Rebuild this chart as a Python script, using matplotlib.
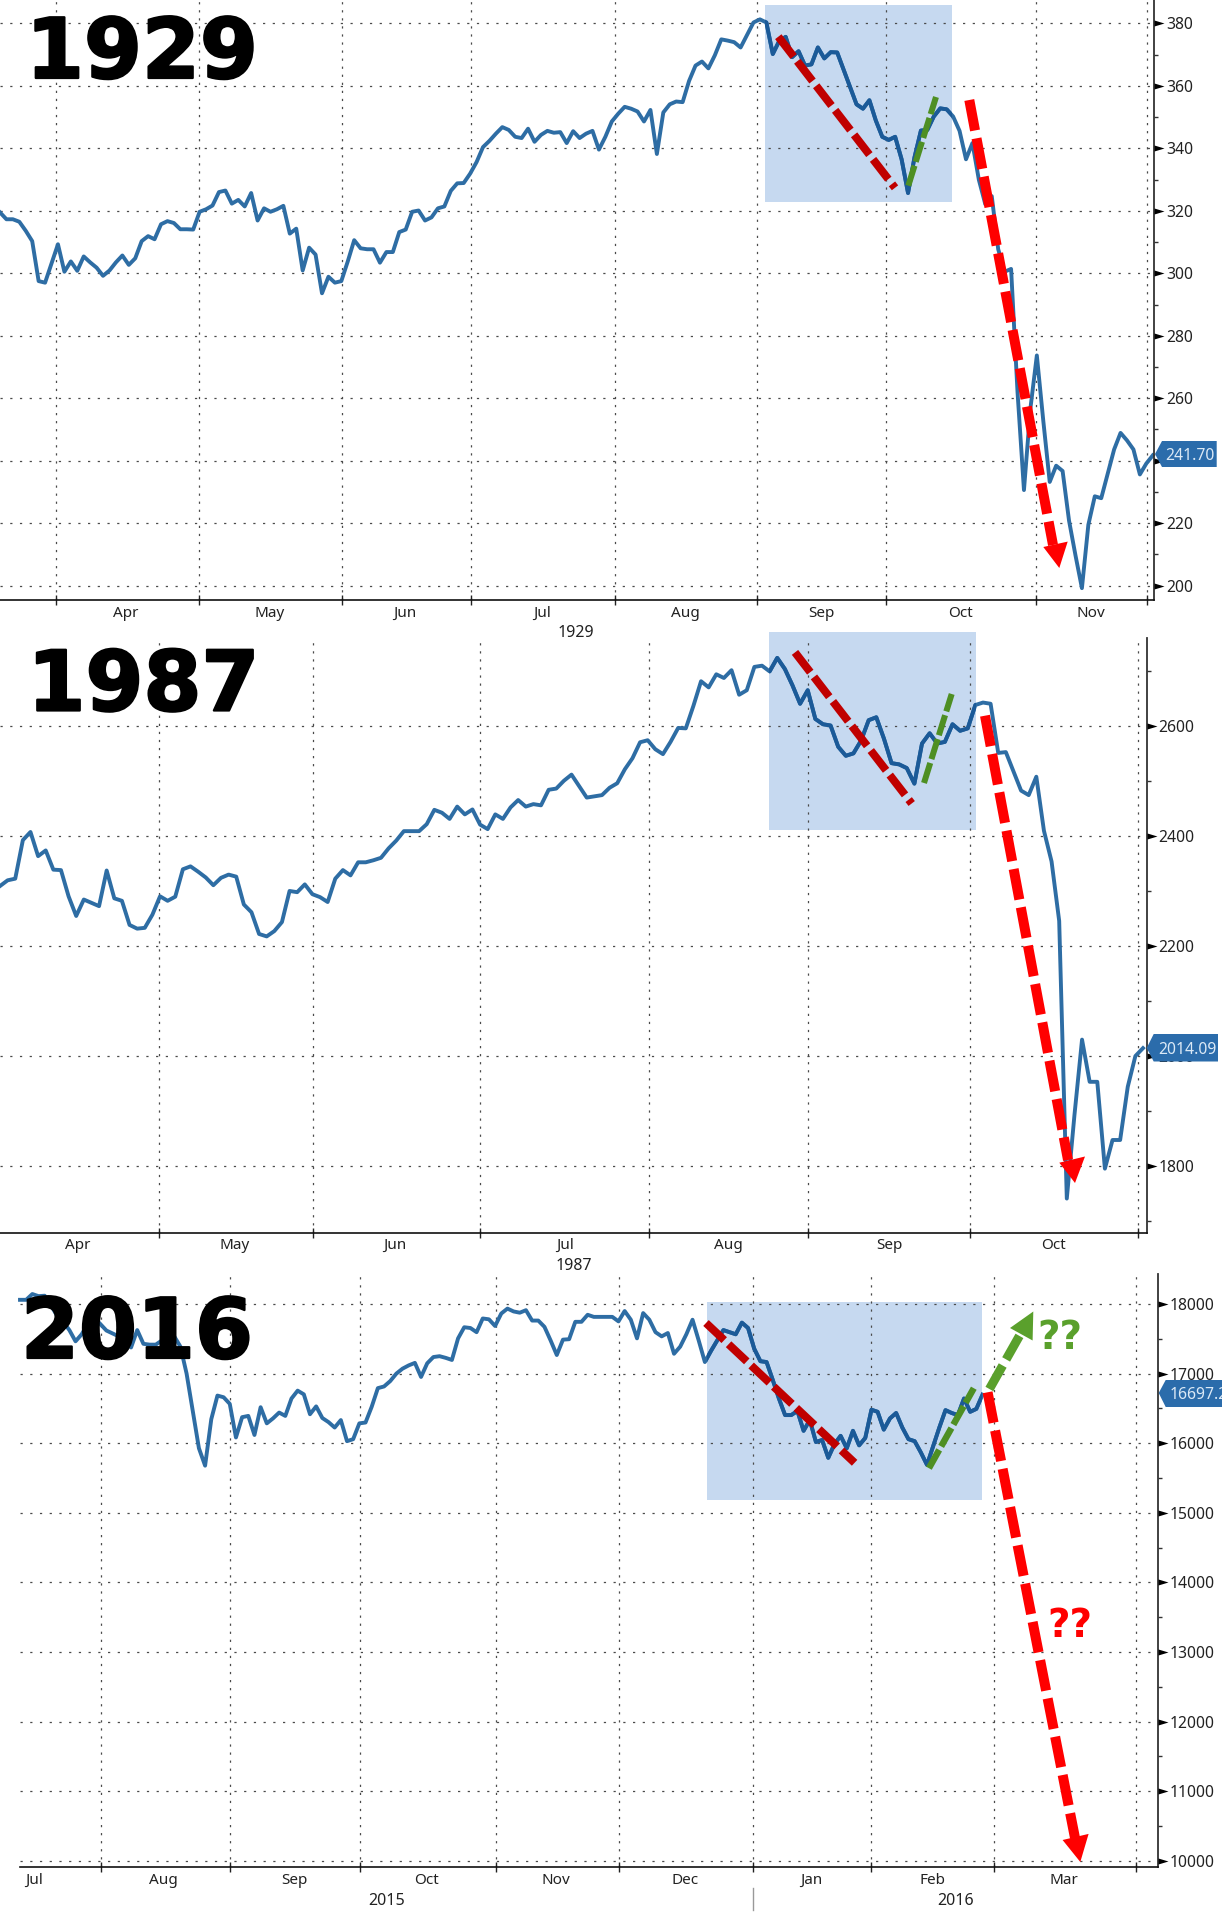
import numpy as np
import matplotlib
matplotlib.use("Agg")
import matplotlib.pyplot as plt
import matplotlib.patheffects as pe
from matplotlib.lines import Line2D
from matplotlib.patches import Polygon, Rectangle
from matplotlib.path import Path
from matplotlib.transforms import Affine2D

# ---------------- data ----------------
close_1929 = [
    319.5, 317.3, 317.3, 316.5, 313.6, 310.3, 297.5, 297.0, 303.1, 309.3, 300.5, 303.8, 300.8, 305.4, 303.5,
    301.8, 299.2, 300.9, 303.5, 305.7, 302.7, 304.8, 310.3, 311.9, 310.9, 315.7, 316.7, 316.1, 314.1, 314.1,
    314.0, 319.7, 320.5, 321.7, 326.0, 326.5, 322.3, 323.5, 321.4, 325.7, 316.9, 320.8, 319.7, 320.5, 321.6,
    312.7, 314.3, 300.9, 308.2, 306.0, 293.6, 298.9, 297.0, 297.5, 303.8, 310.6, 308.0, 307.7, 307.7, 303.4,
    306.8, 306.8, 313.2, 314.0, 319.7, 320.1, 316.9, 317.9, 320.8, 321.4, 326.4, 328.8, 328.9, 331.9, 335.6,
    340.4, 342.4, 344.7, 346.8, 345.9, 343.7, 343.3, 346.3, 342.1, 344.3, 345.6, 345.0, 345.2, 341.7, 345.5,
    343.3, 344.7, 345.6, 339.6, 343.7, 348.6, 351.1, 353.3, 352.7, 351.8, 348.6, 352.3, 338.2, 351.5, 354.1,
    355.0, 354.8, 361.6, 366.5, 367.8, 365.6, 369.8, 374.9, 374.5, 374.0, 372.3, 376.3, 380.3, 381.3, 380.3,
    370.2, 374.4, 375.7, 369.2, 371.1, 366.5, 366.9, 372.3, 368.8, 370.8, 370.7, 365.2, 359.6, 354.1, 352.7,
    355.4, 348.9, 343.7, 342.7, 343.7, 336.5, 325.7, 337.1, 345.7, 345.9, 350.2, 352.8, 352.5, 350.2, 345.6,
    336.5, 341.7, 329.9, 322.1, 324.7, 307.7, 300.5, 301.4, 262.0, 230.6, 256.7, 273.7, 252.8, 233.2, 238.4,
    236.7, 220.8, 209.7, 199.2, 219.5, 228.6, 228.0, 235.8, 243.6, 248.9, 246.5, 243.6, 235.6, 239.1, 241.70,
]
close_1987 = [
    2309.2, 2319.6, 2322.6, 2392.7, 2407.6, 2363.6, 2374.0, 2339.0, 2338.2, 2290.5, 2254.7, 2284.6, 2278.6,
    2272.6, 2337.5, 2286.8, 2282.3, 2238.4, 2231.6, 2233.1, 2257.0, 2290.5, 2282.3, 2289.8, 2339.7, 2345.0,
    2335.3, 2324.8, 2310.7, 2324.1, 2330.0, 2326.3, 2275.6, 2261.5, 2221.9, 2217.5, 2227.2, 2243.6, 2300.2,
    2298.0, 2312.2, 2294.3, 2289.0, 2280.1, 2322.6, 2338.2, 2328.6, 2352.4, 2352.4, 2356.1, 2360.6, 2377.8,
    2391.9, 2409.1, 2409.1, 2409.1, 2421.8, 2447.9, 2442.6, 2431.4, 2453.8, 2439.6, 2448.6, 2421.0, 2412.8,
    2439.6, 2431.4, 2452.3, 2465.7, 2453.8, 2458.3, 2456.1, 2484.4, 2486.6, 2500.8, 2512.0, 2491.1, 2470.2,
    2472.5, 2474.7, 2488.1, 2496.3, 2521.7, 2541.8, 2570.9, 2574.6, 2558.2, 2549.3, 2571.6, 2597.0, 2596.2,
    2637.2, 2682.0, 2670.8, 2694.6, 2687.9, 2702.1, 2657.4, 2665.6, 2708.1, 2710.3, 2699.9, 2724.5, 2704.3,
    2674.5, 2641.0, 2665.6, 2613.4, 2603.7, 2601.4, 2562.7, 2546.3, 2550.7, 2573.9, 2611.1, 2616.4, 2577.6,
    2532.9, 2530.6, 2523.9, 2495.6, 2568.6, 2587.3, 2568.6, 2571.6, 2603.7, 2591.8, 2596.2, 2638.7, 2643.2,
    2641.0, 2551.5, 2553.0, 2517.9, 2482.9, 2474.7, 2508.2, 2409.8, 2353.9, 2245.8, 1740.3, 1891.6, 2029.6,
    1952.8, 1952.8, 1794.7, 1846.9, 1846.9, 1943.8, 1999.7, 2014.09,
]
close_2016 = [
    18060, 18060, 18143, 18113, 18119, 17982, 17833, 17744, 17625, 17464, 17565, 17714, 17803, 17714, 17619,
    17577, 17535, 17476, 17375, 17625, 17428, 17416, 17416, 17476, 17595, 17535, 17387, 17000, 16463, 15927,
    15677, 16344, 16684, 16660, 16565, 16082, 16374, 16392, 16118, 16517, 16285, 16356, 16440, 16392, 16642,
    16755, 16702, 16416, 16529, 16362, 16303, 16225, 16332, 16029, 16058, 16285, 16297, 16523, 16791, 16815,
    16892, 17000, 17071, 17118, 17154, 16952, 17148, 17238, 17250, 17226, 17196, 17506, 17666, 17655, 17595,
    17792, 17780, 17684, 17863, 17934, 17893, 17875, 17911, 17762, 17762, 17672, 17476, 17267, 17488, 17494,
    17744, 17744, 17845, 17815, 17815, 17815, 17815, 17750, 17899, 17774, 17506, 17869, 17774, 17595, 17535,
    17583, 17285, 17387, 17565, 17774, 17476, 17166, 17327, 17476, 17625, 17595, 17565, 17732, 17655, 17357,
    17178, 17166, 16910, 16642, 16404, 16404, 16463, 16178, 16332, 16017, 16046, 15790, 15987, 16106, 15927,
    16178, 15969, 16076, 16481, 16451, 16195, 16356, 16434, 16225, 16058, 16029, 15868, 15689, 15957, 16225,
    16475, 16434, 16404, 16642, 16451, 16493, 16697.2,
]
# month boundaries and month-label positions, in trading sessions from the first point
months_1929 = ["Apr", "May", "Jun", "Jul", "Aug", "Sep", "Oct", "Nov"]
label_at_1929 = [19.5, 41.9, 62.9, 84.1, 106.4, 127.6, 149.2, 169.4]
bounds_1929 = [8.7, 30.9, 53.1, 73.2, 95.5, 117.5, 137.6, 160.9, 178.1]
months_1987 = ["Apr", "May", "Jun", "Jul", "Aug", "Sep", "Oct"]
label_at_1987 = [10.2, 30.8, 51.8, 74.1, 95.6, 116.7, 138.2]
bounds_1987 = [20.85, 41.1, 63.0, 85.2, 106.1, 127.3, 149.4]
months_2016 = ["Jul", "Aug", "Sep", "Oct", "Nov", "Dec", "Jan", "Feb", "Mar"]
label_at_2016 = [2.2, 23.3, 44.4, 65.9, 86.8, 107.8, 128.3, 147.9, 169.2]
bounds_2016 = [13.1, 34.1, 55.1, 77.1, 97.1, 118.8, 137.9, 157.9, 180.8]

W, H, DPI = 1222, 1920, 100
BLUE, DARKBLUE = "#2e6da4", "#1b5a98"
RED, DARKRED, GREEN, DARKGREEN = "#ff0000", "#c00000", "#5aa02c", "#4e8f23"
FONT = "Noto Sans"

plt.rcParams["lines.scale_dashes"] = False
plt.rcParams["font.family"] = [FONT, "DejaVu Sans"]

fig = plt.figure(figsize=(W / DPI, H / DPI), dpi=DPI, facecolor="white")
# image-pixel coordinates for the hand-drawn overlay (y runs downward)
PX = Affine2D().scale(1, -1).translate(0, H)

# wedge-shaped major tick
WEDGE = Path([(0, -0.3), (1, 0), (0, 0.3), (0, -0.3)], closed=True)


def panel(box, xlim, ylim, values, major, minor, bounds, months, label_at, years, shade):
    l, t, r, b = box
    ax = fig.add_axes([l / W, 1 - b / H, (r - l) / W, (b - t) / H], facecolor="none")
    ax.set_xlim(*xlim)
    ax.set_ylim(*ylim)
    for s in ("top", "left"):
        ax.spines[s].set_visible(False)
    ax.spines["bottom"].set_linewidth(1.2)
    ax.spines["bottom"].set_color("#111111")
    ax.spines["right"].set_linewidth(1.3)
    ax.spines["right"].set_color("#333333")

    ax.yaxis.tick_right()
    ax.set_yticks(major)
    ax.set_yticks(minor, minor=True)
    ax.tick_params(axis="y", which="major", length=0, pad=8.6, labelsize=11.3, labelcolor="#222222")
    ax.tick_params(axis="y", which="minor", length=3.2, width=1, color="#333333")
    ax.set_xticks(bounds)
    ax.set_xticklabels([])
    ax.set_xticks(label_at, months, minor=True)
    ax.tick_params(axis="x", which="major", direction="inout", length=7, width=1, color="#222222")
    ax.tick_params(axis="x", which="minor", length=0, pad=4, labelsize=11, labelcolor="#222222")

    ax.grid(True, which="major", axis="y", color="#4a4a4a", lw=0.9, ls=(0, (1.6, 5.4)))
    ax.grid(True, which="major", axis="x", color="#4a4a4a", lw=0.9, ls=(0, (1.6, 4.2)))
    ax.set_axisbelow("line")

    ax.plot(np.ones(len(major)), major, transform=ax.get_yaxis_transform(), marker=WEDGE, ms=14.4,
            color="black", mew=0, ls="none", clip_on=False, zorder=4)

    rect = Rectangle((shade[0], shade[1]), shade[2] - shade[0], shade[3] - shade[1], transform=PX,
                     facecolor="#c6d9f0", edgecolor="none", zorder=1, clip_on=False)
    ax.add_patch(rect)

    x = np.arange(len(values))
    ax.plot(x, values, color=BLUE, lw=2.8, solid_joinstyle="round", zorder=2, clip_on=False)
    dark, = ax.plot(x, values, color=DARKBLUE, lw=2.8, solid_joinstyle="round", zorder=2.1)
    dark.set_clip_path(rect)

    for label, at in years:
        ax.annotate(label, xy=(at, 0), xycoords=("data", "axes fraction"), xytext=(0, -24), textcoords="offset points",
                    ha="center", va="center", fontsize=11.5, color="#222222")
    return ax


panel((0, 0, 1154.3, 600), (0, 1154.3 / 6.44), (195.4, 387.5), close_1929,
      list(range(200, 381, 20)), list(range(210, 371, 20)), bounds_1929, months_1929, label_at_1929,
      [("1929", 89.4)], (765, 4.9, 951.7, 202.4))
panel((0, 638, 1146.7, 1232.5), (0, 1146.7 / 7.62), (1678.5, 2760.7), close_1987,
      [1800, 2000, 2200, 2400, 2600], [1700, 1900, 2100, 2300, 2500, 2700], bounds_1987, months_1987, label_at_1987,
      [("1987", 75.3)], (769, 632, 975.7, 829.6))
panel((20, 1274, 1158, 1867.4), (0, 1138 / 6.17), (9905, 18431), close_2016,
      list(range(10000, 18001, 1000)), list(range(10500, 17501, 1000)), bounds_2016, months_2016, label_at_2016,
      [("2015", 59.5), ("2016", 151.6)], (707, 1302, 982, 1499.7))

# separator between the two year labels of the bottom panel
fig.add_artist(Line2D([753, 753], [1888, 1910], transform=PX, color="#999999", lw=1))


def dashed(p0, p1, color, width, dash, z=6):
    fig.add_artist(Line2D([p0[0], p1[0]], [p0[1], p1[1]], transform=PX, color=color, lw=width * 0.72,
                          ls=(0, (dash[0] * 0.72, dash[1] * 0.72)), dash_capstyle="butt", zorder=z))


def head(points, color, z=6):
    fig.add_artist(Polygon(points, closed=True, transform=PX, facecolor=color, edgecolor="none", zorder=z))


def tag(box, tip_y, label, text_x):
    l, t, r, b = box
    pts = [(l, tip_y), (l + 7, t), (r, t), (r, b), (l + 7, b)]
    fig.add_artist(Polygon(pts, closed=True, transform=PX, facecolor="#2b6cab", edgecolor="none", zorder=7))
    fig.text(text_x, tip_y, label, transform=PX, color="#dbe9f6", fontsize=11.3, ha="left", va="center_baseline", zorder=8)


# 1929 annotations
dashed((778.3, 36.7), (895, 187.8), DARKRED, 8, (25, 6))
dashed((908.3, 185.7), (936, 97), DARKGREEN, 6, (21, 4))
dashed((969.3, 100), (1053, 545), RED, 10, (31, 8))
head([(1043.3, 547), (1067.7, 541.6), (1059.3, 568)], RED)
# 1987 annotations
dashed((795, 652.4), (911.7, 803.5), DARKRED, 8, (25, 6))
dashed((924, 783), (951.7, 694), DARKGREEN, 6, (21, 4))
dashed((985, 715.7), (1068, 1160), RED, 10, (31, 8))
head([(1059.3, 1162.7), (1085, 1156.5), (1075, 1183)], RED)
# 2016 annotations
dashed((706, 1323), (854.6, 1462.8), DARKRED, 8, (25, 6))
dashed((928.9, 1468.2), (973.8, 1388.2), DARKGREEN, 6.5, (21, 4))
dashed((989.4, 1389), (1020.5, 1334), GREEN, 9, (27, 7))
head([(1010, 1328), (1033.3, 1311.5), (1032.6, 1340.5)], GREEN)
dashed((987.6, 1392.3), (1075, 1838), RED, 10, (31, 8))
head([(1062.6, 1840), (1088.6, 1833.9), (1080.3, 1862)], RED)

fig.text(1060.2, 1337.6, "??", transform=PX, color=GREEN, fontsize=28, fontweight="bold",
         family="DejaVu Sans", ha="center", va="center", zorder=9)
fig.text(1070, 1625.7, "??", transform=PX, color=RED, fontsize=28, fontweight="bold",
         family="DejaVu Sans", ha="center", va="center", zorder=9)

# last-value tags
tag((1155, 441, 1216.7, 467), 454, "241.70", 1165)
tag((1146.7, 1034, 1218, 1061.5), 1048, "2014.09", 1158)
tag((1158.7, 1380, 1230, 1407), 1393, "16697.2", 1170)

# big year titles
for label, xp, yp in [("1929", 26, 78), ("1987", 27.5, 710.5), ("2016", 21, 1358)]:
    t = fig.text(xp, yp, label, transform=PX, color="black", fontsize=60, fontweight="bold",
                 family="DejaVu Sans", ha="left", va="baseline", zorder=5)
    t.set_path_effects([pe.withStroke(linewidth=1.6, foreground="black")])

fig.savefig("out.png", dpi=DPI, facecolor="white")
